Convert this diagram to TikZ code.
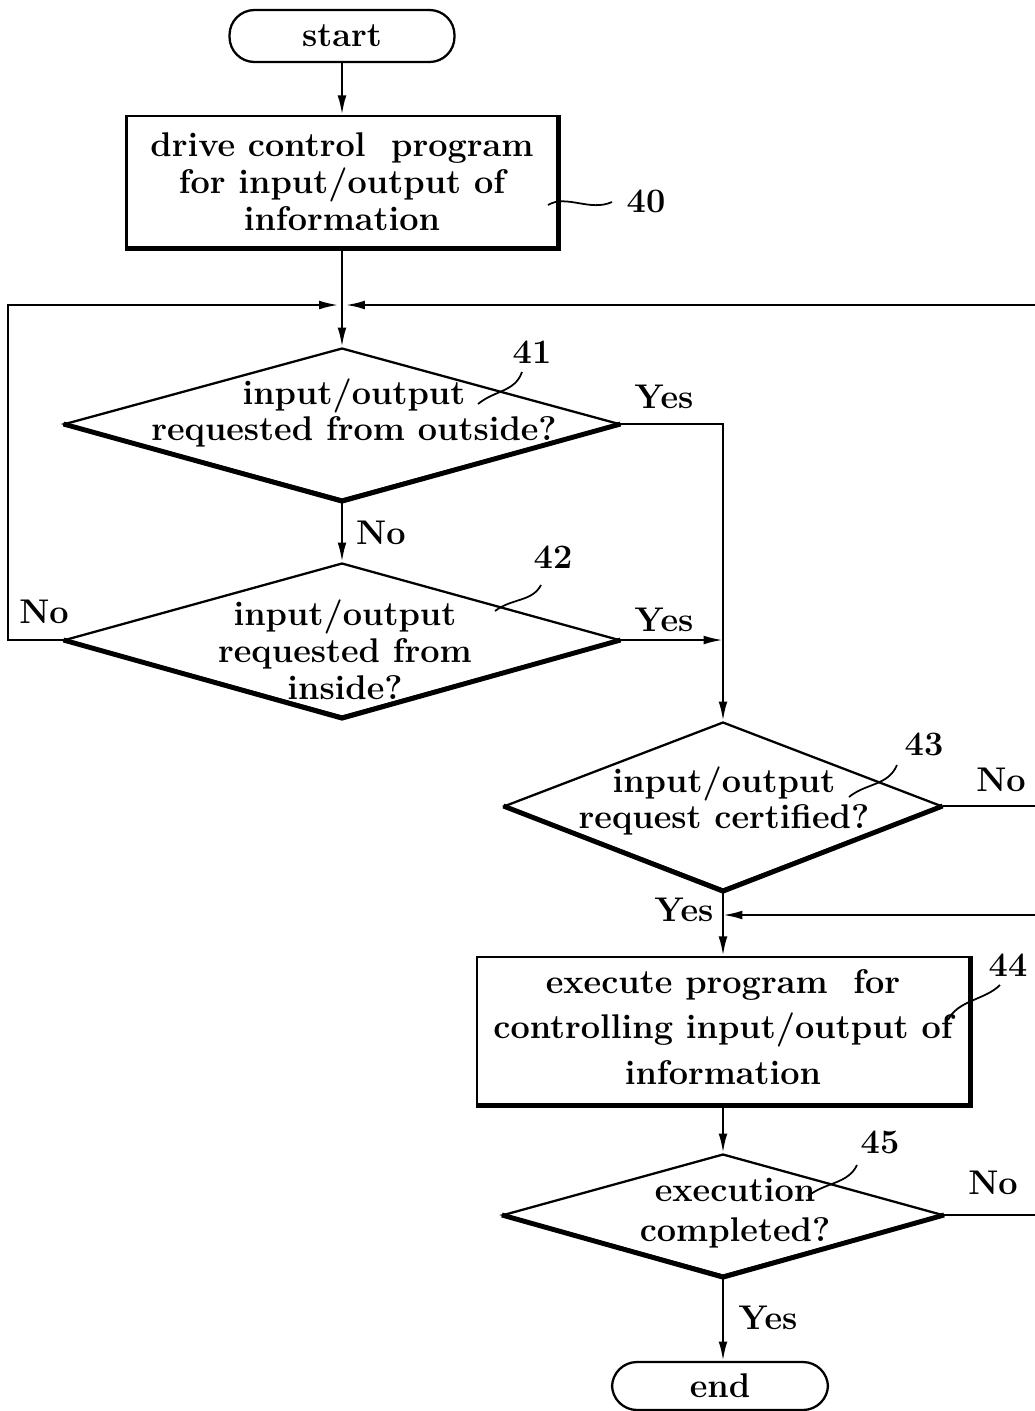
\documentclass[tikz,border=0pt]{standalone}
\usetikzlibrary{arrows.meta,shapes.geometric}
\begin{document}
\begin{tikzpicture}[x=0.02cm,y=-0.02cm,
  every node/.style={font=\fontsize{19.5}{21}\selectfont\bfseries},
  flow/.style={line width=1.3pt},
  arr/.style={flow,-{Latex[length=11pt,width=5pt]}},
  term/.style={draw,line width=1.3pt,rounded corners=0.5cm,inner sep=0},
  proc/.style={draw,line width=1.4pt,inner sep=0},
  dec/.style={draw,diamond,line width=1.3pt,inner sep=0},
  heavy/.style={line width=2.8pt},
  lead/.style={line width=1pt},
  txt/.style={align=center,inner sep=0}
]
\useasboundingbox (0,0) rectangle (1035,1411);

% start
\node[term,minimum width=4.5cm,minimum height=1.04cm] (start) at (342,36) {start};

% box 40
\node[proc,minimum width=8.62cm,minimum height=2.62cm] (b40) at (342,181.5) {};
\draw[heavy] (b40.north east) -- (b40.south east) -- (b40.south west);
\node[txt] (t40) at (342,182) {drive control\ \ program\\for input/output of\\information};
\draw[arr] (start) -- (b40);

% loop coordinates
\coordinate (j) at (342,305);
\coordinate (lL) at (8,305);
\coordinate (lR) at (1035,305);

% diamond 41
\node[dec,minimum width=11.1cm,minimum height=3.04cm] (d41) at (342,424) {};
\draw[heavy] (d41.west) -- (d41.south) -- (d41.east);
\node[txt] (t41) at (354,413) {input/output\\requested from outside?};

% diamond 42
\node[dec,minimum width=11.1cm,minimum height=3.08cm] (d42) at (342,640) {};
\draw[heavy] (d42.west) -- (d42.south) -- (d42.east);
\node[txt] (t42) at (345,650) {input/output\\requested from\\inside?};

% diamond 43
\node[dec,minimum width=8.74cm,minimum height=3.36cm] (d43) at (723,806) {};
\draw[heavy] (d43.west) -- (d43.south) -- (d43.east);
\node[txt] (t43) at (724,801) {input/output\\request certified?};

% box 44
\node[proc,minimum width=9.84cm,minimum height=2.94cm] (b44) at (723,1030.5) {};
\draw[heavy] (b44.north east) -- (b44.south east) -- (b44.south west);
\node[txt,font=\fontsize{19.5}{26}\selectfont\bfseries] (t44) at (723,1027) {execute program\ \ for\\controlling input/output of\\information};

% diamond 45
\node[dec,minimum width=8.8cm,minimum height=2.44cm] (d45) at (723,1215) {};
\draw[heavy] (d45.west) -- (d45.south) -- (d45.east);
\node[txt,font=\fontsize{19.5}{23}\selectfont\bfseries] (t45) at (735,1213) {execution\\completed?};

% end
\node[term,minimum width=4.32cm,minimum height=0.96cm] (end) at (720,1386) {end};

% connectors
\draw[flow] (b40.south) -- (j);
\draw[arr] (j) -- (d41.north);
\draw[arr,shorten >=2pt] (d42.west) -- (lL |- d42.west) -- (lL) -- (j);
\draw[arr,shorten >=2pt] (lR) -- (j);
\draw[arr] (d41.south) -- (d42.north);
\draw[arr] (d41.east) -- (d41.east -| d43.north) -- (d43.north);
\draw[arr] (d42.east) -- (d42.east -| d43.north);
\coordinate (r43) at (d43.east -| lR);
\draw[flow] (d43.east) -- (r43);
\draw[arr] (d43.south) -- (b44.north);
\coordinate (r44) at (1035,915);
\draw[arr] (r44) -- (r44 -| d43.south);
\draw[arr] (b44.south) -- (d45.north);
\coordinate (r45) at (d45.east -| lR);
\draw[flow] (d45.east) -- (r45);
\draw[arr] (d45.south) -- (d45.south |- end.north);

% branch labels
\node (y41) at (664,397) {Yes};
\node (y42) at (664,620) {Yes};
\node[anchor=west] (n41) at (350,533) {No};
\node (n42) at (44,612) {No};
\node (n43) at (1001,780) {No};
\node (y43) at (684,910) {Yes};
\node (n45) at (993,1183) {No};
\node (y45) at (768,1318) {Yes};

% reference numerals
\node (r40) at (646,201) {40};
\node (r41) at (532,352) {41};
\node (r42) at (553,557) {42};
\node (rr43) at (924,744) {43};
\node (rr44) at (1008,965) {44};
\node (rr45) at (880,1142) {45};
\draw[lead] (548,205) .. controls (566,194) and (590,212) .. (612,202);
\draw[lead] (478,404) .. controls (495,390) and (515,392) .. (522,372);
\draw[lead] (495,611) .. controls (512,598) and (532,602) .. (541,585);
\draw[lead] (849,797) .. controls (866,783) and (888,786) .. (897,765);
\draw[lead] (948,1020) .. controls (958,1000) and (985,1000) .. (1000,985);
\draw[lead] (808,1196) .. controls (826,1182) and (848,1184) .. (857,1165);
\end{tikzpicture}
\end{document}
